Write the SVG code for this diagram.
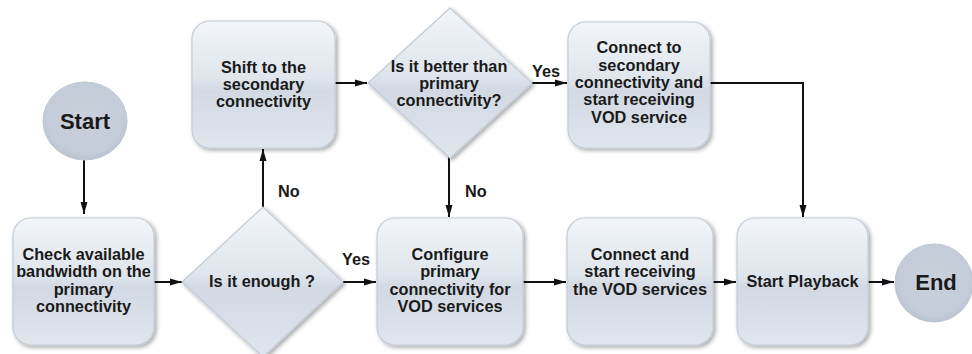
<svg xmlns="http://www.w3.org/2000/svg" width="972" height="354" viewBox="0 0 972 354">
<style>
.t{font-family:"Liberation Sans",Arial,sans-serif;font-weight:bold;font-size:16.3px;fill:#1a1a1a;text-anchor:middle}
.big{font-size:22px}
.lbl{text-anchor:start}
.box{fill:url(#gBox);stroke:#c4ccd8;stroke-width:1.2;filter:url(#sh)}
.dia{fill:url(#gBox);stroke:#c4ccd8;stroke-width:1.2;stroke-linejoin:round;filter:url(#sh)}
.circ{fill:url(#gCirc);stroke:#bdc6d3;stroke-width:1}
.cn{fill:none;stroke:#111;stroke-width:2}
</style>
<defs>
<linearGradient id="gBox" x1="0" y1="0" x2="0" y2="1">
<stop offset="0" stop-color="#f3f6f9"/>
<stop offset="0.45" stop-color="#dfe5ec"/>
<stop offset="0.55" stop-color="#d2d9e3"/>
<stop offset="1" stop-color="#e0e6ed"/>
</linearGradient>
<radialGradient id="gCirc" cx="0.5" cy="0.45" r="0.55">
<stop offset="0" stop-color="#c9d1dd"/>
<stop offset="0.85" stop-color="#c3ccd8"/>
<stop offset="1" stop-color="#b9c3d0"/>
</radialGradient>
<filter id="sh" x="-10%" y="-10%" width="125%" height="125%">
<feGaussianBlur in="SourceAlpha" stdDeviation="2"/>
<feOffset dx="1.5" dy="2" result="b"/>
<feComponentTransfer><feFuncA type="linear" slope="0.35"/></feComponentTransfer>
<feMerge><feMergeNode/><feMergeNode in="SourceGraphic"/></feMerge>
</filter>
<marker id="ar" viewBox="0 0 12 10" refX="12" refY="5" markerWidth="6" markerHeight="5" orient="auto" markerUnits="strokeWidth">
<path d="M0,1.5 L12,5 L0,8.5 z" fill="#111"/>
</marker>
</defs>

<g id="connectors">
<line class="cn" x1="84" y1="160" x2="84" y2="214" marker-end="url(#ar)"/>
<line class="cn" x1="154" y1="282" x2="182" y2="282" marker-end="url(#ar)"/>
<line class="cn" x1="263" y1="207" x2="263" y2="149" marker-end="url(#ar)"/>
<line class="cn" x1="343" y1="282" x2="376" y2="282" marker-end="url(#ar)"/>
<line class="cn" x1="335" y1="83" x2="367" y2="83" marker-end="url(#ar)"/>
<line class="cn" x1="532" y1="83" x2="567" y2="83" marker-end="url(#ar)"/>
<line class="cn" x1="449" y1="157" x2="449" y2="217" marker-end="url(#ar)"/>
<line class="cn" x1="523" y1="282" x2="566" y2="282" marker-end="url(#ar)"/>
<line class="cn" x1="713" y1="282" x2="736" y2="282" marker-end="url(#ar)"/>
<line class="cn" x1="868" y1="282" x2="894" y2="282" marker-end="url(#ar)"/>
<polyline class="cn" points="710,83 803,83 803,217" marker-end="url(#ar)"/>
<text class="t lbl" x="278" y="197">No</text>
<text class="t lbl" x="342" y="265">Yes</text>
<text class="t lbl" x="532" y="77">Yes</text>
<text class="t lbl" x="465" y="197">No</text>
</g>

<g id="start">
<ellipse class="circ" cx="85" cy="121" rx="42" ry="39"/>
<text class="t big" x="85" y="129">Start</text>
</g>

<g id="check">
<rect class="box" x="13" y="218" width="141" height="127" rx="18"/>
<text class="t" x="83.5" y="260">Check available</text>
<text class="t" x="83.5" y="277.3">bandwidth on the</text>
<text class="t" x="83.5" y="294.6">primary</text>
<text class="t" x="83.5" y="311.9">connectivity</text>
</g>

<g id="enough">
<path class="dia" d="M263,207 L343,282 L263,357 L182,282 Z"/>
<text class="t" x="262" y="287">Is it enough ?</text>
</g>

<g id="shift">
<rect class="box" x="192" y="21" width="143" height="127" rx="18"/>
<text class="t" x="263.5" y="72.7">Shift to the</text>
<text class="t" x="263.5" y="90">secondary</text>
<text class="t" x="263.5" y="107.3">connectivity</text>
</g>

<g id="better">
<path class="dia" d="M450,8 L532,83 L450,158 L368,83 Z"/>
<text class="t" x="449" y="71.7">Is it better than</text>
<text class="t" x="449" y="89">primary</text>
<text class="t" x="449" y="106.3">connectivity?</text>
</g>

<g id="connect-secondary">
<rect class="box" x="568" y="22" width="142" height="126" rx="18"/>
<text class="t" x="639" y="53.3">Connect to</text>
<text class="t" x="639" y="70.7">secondary</text>
<text class="t" x="639" y="88">connectivity and</text>
<text class="t" x="639" y="105.4">start receiving</text>
<text class="t" x="639" y="122.8">VOD service</text>
</g>

<g id="configure">
<rect class="box" x="377" y="218" width="146" height="127" rx="18"/>
<text class="t" x="450" y="260">Configure</text>
<text class="t" x="450" y="277.3">primary</text>
<text class="t" x="450" y="294.6">connectivity for</text>
<text class="t" x="450" y="311.9">VOD services</text>
</g>

<g id="connect-primary">
<rect class="box" x="567" y="218" width="146" height="127" rx="18"/>
<text class="t" x="640" y="260">Connect and</text>
<text class="t" x="640" y="277.3">start receiving</text>
<text class="t" x="640" y="294.6">the VOD services</text>
</g>

<g id="playback">
<rect class="box" x="737" y="218" width="131" height="127" rx="18"/>
<text class="t" x="802.5" y="287">Start Playback</text>
</g>

<g id="end">
<ellipse class="circ" cx="934" cy="283" rx="39" ry="39"/>
<text class="t big" x="936" y="290">End</text>
</g>
</svg>
